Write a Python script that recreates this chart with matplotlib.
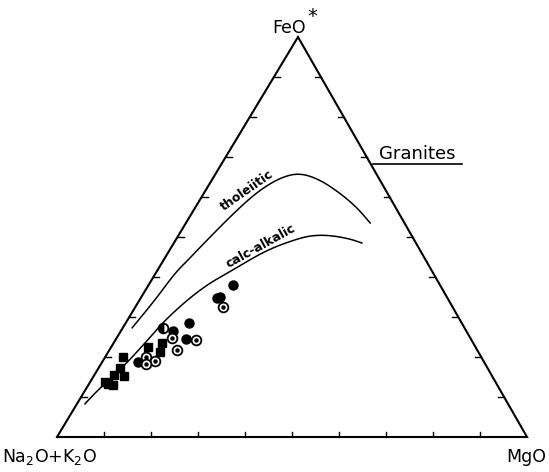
import numpy as np
import matplotlib.pyplot as plt

# AFM diagram, values in wt% (A = Na2O+K2O, F = FeO*, M = MgO)
circ_A = [44.1, 48.2, 49.0, 57.9, 62.3, 60.6, 73.6]
circ_F = [38.0, 35.1, 34.8, 28.6, 26.6, 24.5, 18.7]
circ_M = [17.9, 16.7, 16.2, 13.5, 11.1, 14.9, 7.7]

half_A = [64.3]
half_F = [27.2]
half_M = [8.5]

ring_A = [48.9, 63.6, 58.7, 64.0, 71.4, 69.9, 72.2]
ring_F = [32.6, 24.7, 24.2, 21.7, 20.0, 19.0, 18.2]
ring_M = [18.5, 11.7, 17.1, 14.3, 8.6, 11.1, 9.6]

sq_A = [69.8, 66.2, 67.7, 76.1, 78.2, 78.3, 80.3, 83.1, 81.7, 82.7]
sq_F = [22.4, 23.4, 21.3, 20.1, 17.2, 15.2, 15.5, 13.8, 13.0, 13.2]
sq_M = [7.8, 10.4, 11.0, 3.8, 4.6, 6.5, 4.2, 3.1, 5.3, 4.1]

thol_F = [27.3, 34.3, 41.0, 44.3, 49.3, 56.8, 61.8, 65.0, 66.0, 64.3, 61.0, 57.3, 53.5]
thol_M = [2.0, 3.3, 4.1, 5.2, 6.7, 9.2, 11.5, 14.5, 17.9, 23.0, 28.9, 34.5, 39.2]

calc_F = [8.3, 11.8, 17.3, 23.5, 30.0, 37.3, 41.8, 46.8, 49.8, 50.5, 50.3, 49.5, 48.5]
calc_M = [1.7, 2.7, 5.0, 6.7, 8.2, 11.7, 16.0, 20.7, 26.2, 29.4, 33.0, 37.0, 40.0]

ticks = [10, 20, 30, 40, 50, 60, 70, 80, 90]

# the scanned triangle is slightly skewed: apex sits a bit right of centre
SKEW = 241 / 470
HGT = 400 / 470


def tern(F, M):
    xs = [(m + SKEW * f) / 100 for f, m in zip(F, M)]
    ys = [HGT * f / 100 for f in F]
    return xs, ys


def P(px, py):
    return (px - 57) / 470, (437 - py) / 470


def chaikin(xs, ys, n=3):
    # corner cutting, only to draw the hand-drawn curves smoothly
    pts = np.column_stack([xs, ys])
    for _ in range(n):
        q = 0.75 * pts[:-1] + 0.25 * pts[1:]
        r = 0.25 * pts[:-1] + 0.75 * pts[1:]
        mid = np.empty((2 * len(q), 2))
        mid[0::2] = q
        mid[1::2] = r
        pts = np.vstack([pts[:1], mid, pts[-1:]])
    return pts[:, 0], pts[:, 1]


fig = plt.figure(figsize=(5.49, 4.72), dpi=100)
ax = fig.add_axes([0, 0, 1, 1])
ax.set_xlim(-57 / 470, 492 / 470)
ax.set_ylim(-35 / 470, 437 / 470)
ax.axis('off')

# frame
fx, fy = tern([0, 0, 100, 0], [0, 100, 0, 0])
ax.plot(fx, fy, color='black', lw=1.5, solid_joinstyle='miter')

tl = 6 / 470
for t in ticks:
    x, y = tern([0], [t])
    ax.plot([x[0], x[0]], [0, tl * 0.9], color='black', lw=1)
    x, y = tern([t], [0])
    ax.plot([x[0], x[0] + tl], [y[0], y[0]], color='black', lw=1)
    x, y = tern([t], [100 - t])
    ax.plot([x[0], x[0] - tl], [y[0], y[0]], color='black', lw=1)

# trend curves
x, y = tern(thol_F, thol_M)
ax.plot(*chaikin(x, y), color='black', lw=1.1)
x, y = tern(calc_F, calc_M)
ax.plot(*chaikin(x, y), color='black', lw=1.1)

# samples
x, y = tern(sq_F, sq_M)
ax.plot(x, y, 's', ms=5.5, color='black', ls='none')
x, y = tern(circ_F, circ_M)
ax.plot(x, y, 'o', ms=6.5, color='black', ls='none')
x, y = tern(ring_F, ring_M)
ax.plot(x, y, 'o', ms=7, mfc='white', mec='black', mew=1.3, ls='none')
ax.plot(x, y, 'o', ms=2.2, color='black', ls='none')
x, y = tern(half_F, half_M)
ax.plot(x, y, 'o', ms=7, fillstyle='left', mfc='black', mfcalt='white',
        mec='black', mew=1.3, ls='none')

# labels
ax.text(*P(289, 33), 'FeO', fontsize=12.5, ha='center', va='baseline')
ax.text(*P(312, 17), '*', fontsize=14, ha='center', va='center')
ax.text(*P(2, 462), r'Na$_2$O+K$_2$O', fontsize=12.5, ha='left', va='baseline')
ax.text(*P(546, 462), 'MgO', fontsize=12.5, ha='right', va='baseline')
ax.text(*P(417, 159), 'Granites', fontsize=13, ha='center', va='baseline')
ux0, uy = P(373, 164)
ux1, _ = P(462, 164)
ax.plot([ux0, ux1], [uy, uy], color='black', lw=1.2)

ax.text(*P(247, 190), 'tholeiitic', fontsize=9, fontweight='bold',
        rotation=35, rotation_mode='anchor', ha='center', va='center')
ax.text(*P(261, 246), 'calc-alkalic', fontsize=9, fontweight='bold',
        rotation=29, rotation_mode='anchor', ha='center', va='center')

fig.savefig('out.png', dpi=100)
